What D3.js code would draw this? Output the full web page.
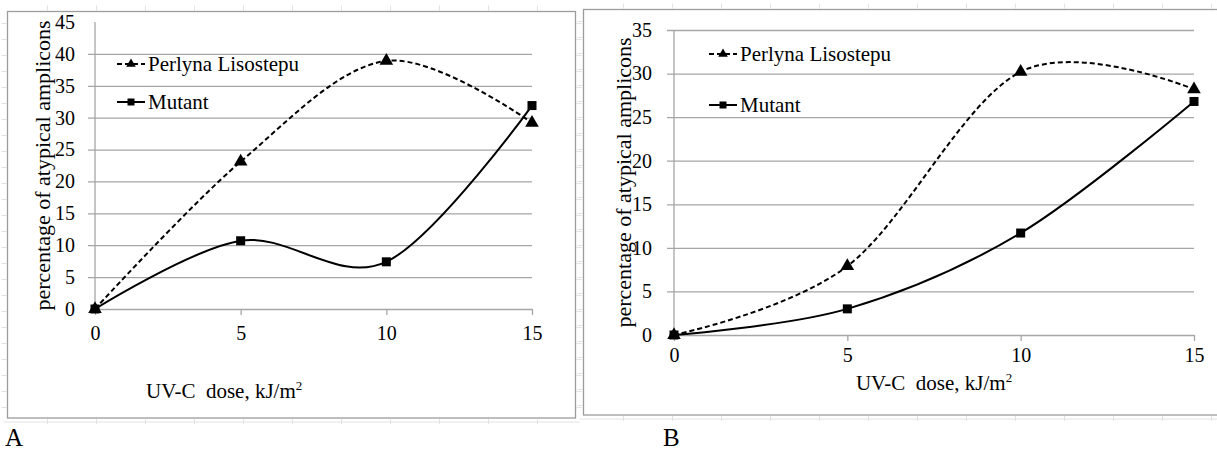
<!DOCTYPE html>
<html>
<head>
<meta charset="utf-8">
<script src="https://cdn.jsdelivr.net/npm/d3@7"></script>
<style>
  html, body { margin: 0; padding: 0; background: #fff; }
  svg, svg text { font-family: "Liberation Serif", "Times New Roman", Tinos, "DejaVu Serif", serif !important; }
</style>
</head>
<body>
<div id="chart"></div>
<script>
// DATA: percentage of atypical amplicons vs UV-C dose
const doses = [0, 5, 10, 15];
const xTicks = [0, 5, 10, 15];
const seriesNames = ['Perlyna Lisostepu', 'Mutant'];

const perlynaA = [0, 23.1, 38.9, 29.2];
const mutantA = [0, 10.7, 7.4, 31.9];
const yTicksA = [0, 5, 10, 15, 20, 25, 30, 35, 40, 45];
const gridA = [5, 10, 15, 20, 25, 30, 35, 40];

const perlynaB = [0, 7.9, 30.2, 28.2];
const mutantB = [0, 3.0, 11.7, 26.8];
const yTicksB = [0, 5, 10, 15, 20, 25, 30, 35];
const gridB = [5, 10, 15, 20, 25, 30, 35];

const yTitle = 'percentage of atypical amplicons';
const captions = ['A', 'B'];

const W = 1217, H = 452;
const GRID = '#a6a6a6';
const FRAME = '#9c9c9c';

const svg = d3.select('#chart').append('svg')
    .attr('width', W).attr('height', H)
    .attr('viewBox', `0 0 ${W} ${H}`);

svg.append('rect').attr('width', W).attr('height', H).attr('fill', '#fff');

const panels = [
    {
        caption: captions[0], perl: perlynaA, mut: mutantA, yTicks: yTicksA, grid: gridA, yMax: 45,
        frame: { x: 7.5, y: 11.5, w: 568, h: 406.5 },
        plot: { left: 95, right: 532, top: 22, bottom: 309 },
        xPad: 11, yPad: 20, yTitleX: 42,
        xTitle: { x: 146, y: 398, anchor: 'start' },
        legend: { x: 117, y: [64, 102] },
        capX: 5
    },
    {
        caption: captions[1], perl: perlynaB, mut: mutantB, yTicks: yTicksB, grid: gridB, yMax: 35,
        frame: { x: 583.5, y: 9.5, w: 660, h: 405.5 },
        plot: { left: 674, right: 1194, top: 30, bottom: 335 },
        xPad: 7, yPad: 22, yTitleX: 623,
        xTitle: { x: 934, y: 390, anchor: 'middle' },
        legend: { x: 709, y: [54, 105] },
        capX: 663
    }
];

const triangle = d3.symbol().type(d3.symbolTriangle);
const square = d3.symbol().type(d3.symbolSquare);

function drawPanel(p) {
    const g = svg.append('g');
    const f = p.frame;

    // faint sheet guides around the embedded chart
    const guide = g.append('g').attr('stroke', '#e2e2e2').attr('stroke-width', 1);
    guide.append('line').attr('x1', f.x - 4).attr('x2', f.x + f.w + 4)
        .attr('y1', f.y + f.h + 4).attr('y2', f.y + f.h + 4);
    d3.range(f.x + 40, f.x + f.w, 49).forEach(x => {
        guide.append('line').attr('x1', x).attr('x2', x).attr('y1', f.y - 6).attr('y2', f.y - 1);
        guide.append('line').attr('x1', x).attr('x2', x).attr('y1', f.y + f.h + 1).attr('y2', f.y + f.h + 6);
    });
    d3.range(f.y + 12, f.y + f.h, 16).forEach(y => {
        guide.append('line').attr('x1', f.x - 6).attr('x2', f.x - 1).attr('y1', y).attr('y2', y);
        guide.append('line').attr('x1', f.x + f.w + 1).attr('x2', f.x + f.w + 6).attr('y1', y).attr('y2', y);
    });

    g.append('rect')
        .attr('x', f.x).attr('y', f.y).attr('width', f.w).attr('height', f.h)
        .attr('fill', '#fff').attr('stroke', FRAME).attr('stroke-width', 1.3);

    const x = d3.scaleLinear().domain([0, 15]).range([p.plot.left, p.plot.right]);
    const y = d3.scaleLinear().domain([0, p.yMax]).range([p.plot.bottom, p.plot.top]);
    const plotW = p.plot.right - p.plot.left;

    // GRIDLINES
    const grid = g.append('g')
        .attr('transform', `translate(${p.plot.left - 7},0)`)
        .call(d3.axisLeft(y).tickValues(p.grid).tickSize(-(plotW + 7)).tickFormat(''));
    grid.select('.domain').remove();
    grid.selectAll('line').attr('stroke', GRID).attr('stroke-width', 1.3);

    // Y AXIS
    const yAx = g.append('g')
        .attr('transform', `translate(${p.plot.left},0)`)
        .call(d3.axisLeft(y).tickValues(p.yTicks).tickSize(0).tickPadding(p.yPad).tickFormat(d3.format('d')));
    yAx.select('.domain').remove();
    yAx.attr('font-family', null);
    yAx.selectAll('text').attr('font-size', 20).attr('fill', '#000');
    g.append('line')
        .attr('x1', p.plot.left).attr('x2', p.plot.left)
        .attr('y1', y(p.yMax)).attr('y2', y(0))
        .attr('stroke', GRID).attr('stroke-width', 1.3);

    // X AXIS
    const xAx = g.append('g')
        .attr('transform', `translate(0,${p.plot.bottom})`)
        .call(d3.axisBottom(x).tickValues(xTicks).tickSizeInner(6).tickSizeOuter(0).tickPadding(p.xPad));
    xAx.attr('font-family', null);
    xAx.select('.domain').attr('stroke', GRID).attr('stroke-width', 1.3);
    xAx.selectAll('line').attr('stroke', GRID).attr('stroke-width', 1.3);
    xAx.selectAll('text').attr('font-size', 20).attr('fill', '#000');

    // TITLES
    g.append('text')
        .attr('transform', `translate(${p.yTitleX},${(p.plot.top + p.plot.bottom) / 2}) rotate(-90)`)
        .attr('text-anchor', 'middle').attr('dominant-baseline', 'central')
        .attr('font-size', 22).attr('fill', '#000')
        .text(yTitle);

    const xt = g.append('text')
        .attr('x', p.xTitle.x).attr('y', p.xTitle.y)
        .attr('text-anchor', p.xTitle.anchor)
        .attr('font-size', 21).attr('fill', '#000');
    xt.append('tspan').text('UV-C\u00a0 dose, kJ/m');
    xt.append('tspan').attr('font-size', 13).attr('dy', -8).text('2');

    // LINES
    const line = d3.line()
        .x((d, i) => x(doses[i]))
        .y(d => y(d))
        .curve(d3.curveCardinal.tension(0));

    g.append('path').datum(p.perl)
        .attr('d', line).attr('fill', 'none')
        .attr('stroke', '#000').attr('stroke-width', 2).attr('stroke-dasharray', '5,3');
    g.append('path').datum(p.mut)
        .attr('d', line).attr('fill', 'none')
        .attr('stroke', '#000').attr('stroke-width', 2);

    // MARKERS
    g.append('g').selectAll('path').data(p.perl).join('path')
        .attr('transform', (d, i) => `translate(${x(doses[i])},${y(d)})`)
        .attr('d', triangle.size(80)).attr('fill', '#000');
    g.append('g').selectAll('path').data(p.mut).join('path')
        .attr('transform', (d, i) => `translate(${x(doses[i])},${y(d)})`)
        .attr('d', square.size(81)).attr('fill', '#000');

    // LEGEND
    const lg = g.append('g');
    seriesNames.forEach((name, i) => {
        const ly = p.legend.y[i];
        lg.append('line')
            .attr('x1', p.legend.x).attr('x2', p.legend.x + 28)
            .attr('y1', ly).attr('y2', ly)
            .attr('stroke', '#000').attr('stroke-width', 2)
            .attr('stroke-dasharray', i === 0 ? '5,3' : null);
        lg.append('path')
            .attr('transform', `translate(${p.legend.x + 14},${ly})`)
            .attr('d', (i === 0 ? triangle : square).size(i === 0 ? 40 : 49)())
            .attr('fill', '#000');
        lg.append('text')
            .attr('x', p.legend.x + 31).attr('y', ly)
            .attr('dominant-baseline', 'central')
            .attr('font-size', 21).attr('fill', '#000')
            .text(name);
    });

    // PANEL LETTER
    svg.append('text')
        .attr('x', p.capX).attr('y', 446)
        .attr('font-size', 25).attr('fill', '#000')
        .text(p.caption);
}

panels.forEach(drawPanel);
</script>
</body>
</html>
